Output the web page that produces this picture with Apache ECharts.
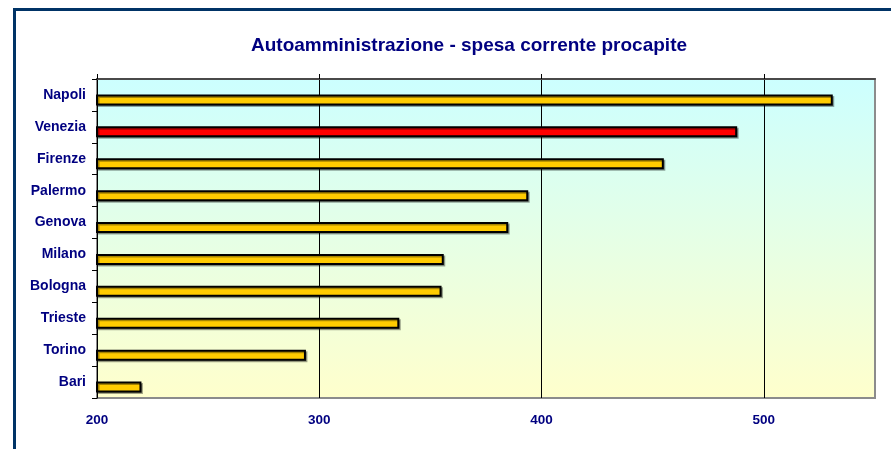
<!DOCTYPE html>
<html>
<head>
<meta charset="utf-8">
<title>Autoamministrazione - spesa corrente procapite</title>
<script src="https://cdn.jsdelivr.net/npm/echarts@6/dist/echarts.min.js"></script>
<style>
  html, body { margin: 0; padding: 0; background: #ffffff; overflow: hidden; }
  #wrap { position: relative; width: 891px; height: 449px; overflow: hidden; }
  #frame {
    position: absolute; left: 13px; top: 8px; right: -20px; bottom: -20px;
    border-left: 3px solid #003366; border-top: 3px solid #003366;
    pointer-events: none;
  }
  #chart { position: absolute; left: 0; top: 0; width: 891px; height: 449px; }
</style>
</head>
<body>
<div id="wrap">
  <div id="chart"></div>
  <div id="frame"></div>
</div>
<script>
// Cities, top to bottom
const cities = ['Napoli', 'Venezia', 'Firenze', 'Palermo', 'Genova', 'Milano', 'Bologna', 'Trieste', 'Torino', 'Bari'];
// Current spending per inhabitant
const spesa = [531, 488, 455, 394, 385, 356, 355, 336, 294, 220];
// Value-axis tick labels
const ticks = [200, 300, 400, 500];
const axisMin = 200;
const axisMax = 550;
const highlighted = 'Venezia';

const navy = '#000080';
const font = '"Liberation Sans", Arial, sans-serif';

const chart = echarts.init(document.getElementById('chart'), null, { renderer: 'canvas' });

const barData = cities.map((c, i) => ({
  value: spesa[i],
  itemStyle: { color: c === highlighted ? '#FF0000' : '#FFCC00' }
}));

chart.setOption({
  animation: false,
  title: {
    text: 'Autoamministrazione - spesa corrente procapite',
    left: 464,
    top: 31,
    textAlign: 'center',
    textStyle: { color: navy, fontFamily: font, fontWeight: 'bold', fontSize: 19 }
  },
  grid: {
    left: 97, right: 16, top: 79, bottom: 51,
    show: true,
    borderColor: '#8c8c8c',
    borderWidth: 2,
    backgroundColor: new echarts.graphic.LinearGradient(0, 0, 0, 1, [
      { offset: 0, color: '#CCFFFF' },
      { offset: 1, color: '#FFFFCC' }
    ])
  },
  xAxis: [
    {
      type: 'value',
      position: 'bottom',
      min: axisMin, max: axisMax, interval: 100,
      axisLine: { show: false },
      axisTick: { show: false },
      axisLabel: {
        customValues: ticks,
        margin: 15,
        color: navy, fontFamily: font, fontWeight: 'bold', fontSize: 13.5
      },
      splitLine: { show: true, showMinLine: false, showMaxLine: false, lineStyle: { color: '#000000', width: 1 } }
    },
    {
      type: 'value',
      position: 'top',
      min: axisMin, max: axisMax, interval: 100,
      axisLine: { show: true, lineStyle: { color: '#4a4a4a', width: 2 } },
      axisTick: { show: true, customValues: ticks, length: 5, lineStyle: { color: '#000000', width: 1 } },
      axisLabel: { show: false },
      splitLine: { show: false }
    }
  ],
  yAxis: {
    type: 'category',
    data: cities,
    inverse: true,
    axisLine: { show: true, onZero: false, lineStyle: { color: '#000000', width: 1 } },
    axisTick: { show: true, length: 5, lineStyle: { color: '#000000' } },
    axisLabel: {
      margin: 11,
      color: navy, fontFamily: font, fontWeight: 'bold', fontSize: 14
    },
    splitLine: { show: false }
  },
  series: [
    {
      // empty spacer column: pushes the real bars below the band centre
      name: 'spacer',
      type: 'bar',
      barWidth: 10,
      barGap: '0%',
      silent: true,
      data: []
    },
    {
      name: 'Spesa corrente procapite',
      type: 'bar',
      barWidth: 11,
      barGap: '0%',
      data: barData,
      itemStyle: {
        borderColor: '#000000',
        borderWidth: 2,
        shadowColor: 'rgba(0,0,0,0.35)',
        shadowOffsetX: 1.5,
        shadowOffsetY: 1.5,
        shadowBlur: 0
      }
    }
  ]
});
</script>
</body>
</html>
